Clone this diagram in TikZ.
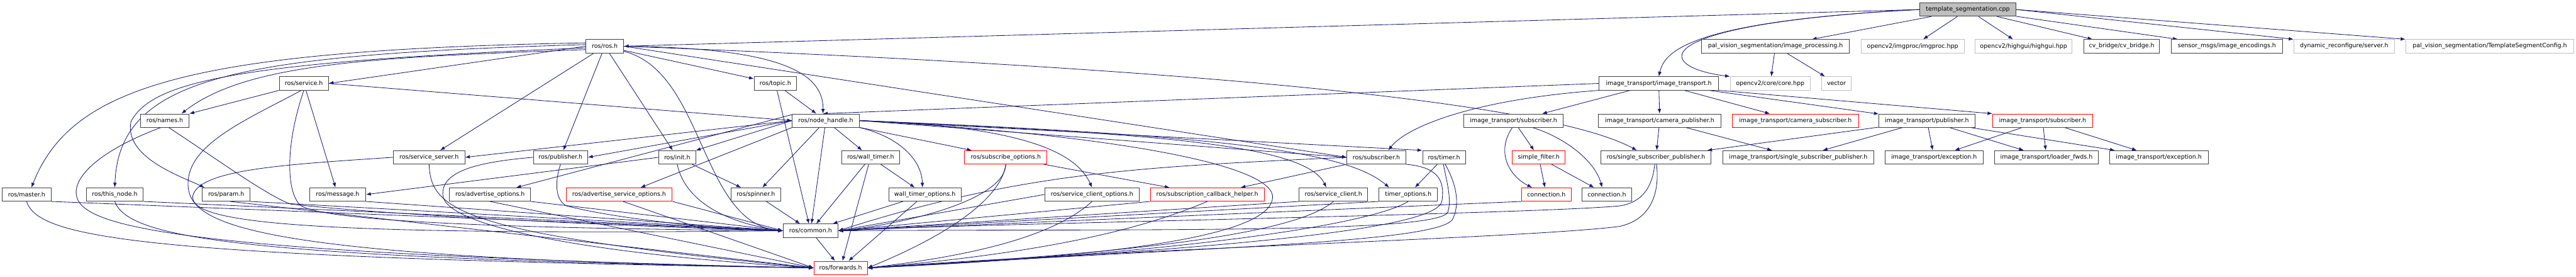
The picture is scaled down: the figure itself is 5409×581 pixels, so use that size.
\documentclass[tikz,border=0pt]{standalone}
\usepackage{fontspec}
\setmainfont{DejaVu Sans}
\usetikzlibrary{arrows.meta}
\definecolor{edgeblue}{HTML}{191970}
\pgfdeclarelayer{bg}
\pgfsetlayers{bg,main}

\begin{document}
\begin{tikzpicture}[
  x=1pt, y=-1pt,
  every node/.style={font=\fontsize{12.5}{15}\selectfont},
  incfile/.style={rectangle, draw=black!75, fill=white, line width=1.2pt, inner sep=0pt, minimum height=28pt},
  rootfile/.style={incfile, fill=black!25},
  truncfile/.style={incfile, draw=red},
  extfile/.style={incfile, draw=black!25},
  dep/.style={draw=edgeblue, line width=1.1pt, -{Latex[length=10pt,width=7.5pt]}}
]
  \useasboundingbox (0,0) rectangle (5409,581);

  % root file
  \node[rootfile, minimum width=202pt] (tmpl) at (4132,20) {template\_segmentation.cpp};

  % row 1
  \node[incfile, minimum width=79pt] (ros) at (1270,97) {ros/ros.h};
  \node[incfile, minimum width=311pt] (improc) at (3728,97) {pal\_vision\_segmentation/image\_processing.h};
  \node[extfile, minimum width=216pt] (imgproc) at (4016,97) {opencv2/imgproc/imgproc.hpp};
  \node[extfile, minimum width=204pt] (highgui) at (4249,97) {opencv2/highgui/highgui.hpp};
  \node[incfile, minimum width=159pt] (cvbridge) at (4455,97) {cv\_bridge/cv\_bridge.h};
  \node[incfile, minimum width=234pt] (encodings) at (4676,97) {sensor\_msgs/image\_encodings.h};
  \node[extfile, minimum width=211pt] (dynrec) at (4922,97) {dynamic\_reconfigure/server.h};
  \node[extfile, minimum width=353pt] (tsconfig) at (5228,97) {pal\_vision\_segmentation/TemplateSegmentConfig.h};

  % row 2
  \node[incfile, minimum width=103pt] (service) at (638,175) {ros/service.h};
  \node[incfile, minimum width=89pt] (topic) at (1628,175) {ros/topic.h};
  \node[incfile, minimum width=251pt] (itt) at (3483,175) {image\_transport/image\_transport.h};
  \node[extfile, minimum width=168pt] (core) at (3717,175) {opencv2/core/core.hpp};
  \node[extfile, minimum width=62pt] (vector) at (3856,175) {vector};

  % row 3
  \node[incfile, minimum width=102pt] (names) at (346,253) {ros/names.h};
  \node[incfile, minimum width=141pt] (nh) at (1734,253) {ros/node\_handle.h};
  \node[incfile, minimum width=209pt] (itsubA) at (3178,253) {image\_transport/subscriber.h};
  \node[incfile, minimum width=257pt] (campub) at (3485,253) {image\_transport/camera\_publisher.h};
  \node[truncfile, minimum width=265pt] (camsub) at (3770,253) {image\_transport/camera\_subscriber.h};
  \node[incfile, minimum width=201pt] (itpub) at (4046,253) {image\_transport/publisher.h};
  \node[truncfile, minimum width=210pt] (itsubB) at (4289,253) {image\_transport/subscriber.h};

  % row 4
  \node[incfile, minimum width=150pt] (srvserver) at (901,330) {ros/service\_server.h};
  \node[incfile, minimum width=114pt] (pub) at (1177,330) {ros/publisher.h};
  \node[incfile, minimum width=77pt] (init) at (1422,330) {ros/init.h};
  \node[incfile, minimum width=122pt] (walltimer) at (1828,330) {ros/wall\_timer.h};
  \node[truncfile, minimum width=173pt] (subopts) at (2112,330) {ros/subscribe\_options.h};
  \node[incfile, minimum width=123pt] (sub) at (2890,330) {ros/subscriber.h};
  \node[incfile, minimum width=90pt] (timer) at (3032,330) {ros/timer.h};
  \node[truncfile, minimum width=111pt] (sfilter) at (3231,330) {simple\_filter.h};
  \node[incfile, minimum width=232pt] (rosssp) at (3477,330) {ros/single\_subscriber\_publisher.h};
  \node[incfile, minimum width=318pt] (itssp) at (3776,330) {image\_transport/single\_subscriber\_publisher.h};
  \node[incfile, minimum width=206pt] (exc1) at (4061,330) {image\_transport/exception.h};
  \node[incfile, minimum width=219pt] (loader) at (4297,330) {image\_transport/loader\_fwds.h};
  \node[incfile, minimum width=207pt] (exc2) at (4533,330) {image\_transport/exception.h};

  % row 5
  \node[incfile, minimum width=103pt] (master) at (56,408) {ros/master.h};
  \node[incfile, minimum width=120pt] (thisnode) at (241,408) {ros/this\_node.h};
  \node[incfile, minimum width=100pt] (param) at (475,408) {ros/param.h};
  \node[incfile, minimum width=118pt] (message) at (709,408) {ros/message.h};
  \node[incfile, minimum width=170pt] (advopts) at (1029,408) {ros/advertise\_options.h};
  \node[truncfile, minimum width=223pt] (advsrvopts) at (1300,408) {ros/advertise\_service\_options.h};
  \node[incfile, minimum width=105pt] (spinner) at (1587,408) {ros/spinner.h};
  \node[incfile, minimum width=152pt] (wtopts) at (1942,408) {wall\_timer\_options.h};
  \node[incfile, minimum width=199pt] (scopts) at (2293,408) {ros/service\_client\_options.h};
  \node[truncfile, minimum width=239pt] (schelper) at (2535,408) {ros/subscription\_callback\_helper.h};
  \node[incfile, minimum width=144pt] (srvclient) at (2800,408) {ros/service\_client.h};
  \node[incfile, minimum width=123pt] (topts) at (2957,408) {timer\_options.h};
  \node[truncfile, minimum width=104pt] (connA) at (3247,408) {connection.h};
  \node[incfile, minimum width=105pt] (connB) at (3374,408) {connection.h};

  % rows 6 and 7
  \node[incfile, minimum width=115pt] (common) at (1702,484) {ros/common.h};
  \node[truncfile, minimum width=112pt] (fwd) at (1765,562) {ros/forwards.h};

  \begin{pgfonlayer}{bg}
    \fill[white] (0,0) rectangle (5409,581);

    % root includes
    \draw[dep] (tmpl.west) -- (ros.east);
    \draw[dep] (tmpl.west) .. controls (3540,45) and (3495,110) .. (itt.north);
    \draw[dep] (tmpl.west) .. controls (3450,50) and (3470,140) .. (core.north west);
    \draw[dep] (tmpl) -- (improc);
    \draw[dep] (tmpl) -- (imgproc);
    \draw[dep] (tmpl) -- (highgui);
    \draw[dep] (tmpl) -- (cvbridge);
    \draw[dep] (tmpl) -- (encodings);
    \draw[dep] (tmpl.east) -- (dynrec.north west);
    \draw[dep] (tmpl.east) -- (tsconfig.north west);
    \draw[dep] (improc) -- (core);
    \draw[dep] (improc) -- (vector);

    % ros/ros.h
    \draw[dep] (ros.west) -- (service.east);
    \draw[dep] (ros.170) .. controls (400,105) and (150,180) .. ([xshift=10pt]master.north);
    \draw[dep] (ros.175) .. controls (500,115) and (250,160) .. (thisnode.north);
    \draw[dep] (ros.185) .. controls (500,130) and (320,170) .. (275,255) .. controls (260,330) and (380,370) .. ([xshift=5pt]param.north west);
    \draw[dep] (ros.190) .. controls (800,120) and (520,130) .. ([xshift=35pt]names.north);
    \draw[dep] (ros) -- (srvserver);
    \draw[dep] (ros) -- (pub);
    \draw[dep] (ros) -- (init);
    \draw[dep] (ros) -- (topic);
    \draw[dep] (ros.east) .. controls (1600,100) and (1730,140) .. ([xshift=-6pt]nh.north);
    \draw[dep] (ros.-15) .. controls (1480,150) and (1470,470) .. (common.west);
    \draw[dep] (ros.east) -- (sub.west);
    \draw[dep] (ros.east) .. controls (2700,150) and (3280,230) .. ([xshift=-40pt]rosssp.north);

    % ros/service.h
    \draw[dep] (service.east) -- (nh.west);
    \draw[dep] (service.south west) -- (names.north east);
    \draw[dep] (service) -- (message);
    \draw[dep] (service.south) .. controls (600,300) and (600,400) .. (630,430) .. controls (680,470) and (1200,480) .. (common.west);
    \draw[dep] (service.-110) .. controls (520,250) and (400,300) .. (395,380) .. controls (390,470) and (500,540) .. (fwd.west);

    % ros/node_handle.h
    \draw[dep] (nh.west) -- (srvserver.east);
    \draw[dep] (nh.west) -- (pub.east);
    \draw[dep] (nh.170) -- ([xshift=55pt]advopts.north);
    \draw[dep] (nh.south west) -- ([xshift=45pt]advsrvopts.north);
    \draw[dep] (nh.west) -- (init.north east);
    \draw[dep] (nh) -- (spinner);
    \draw[dep] (nh) -- (common);
    \draw[dep] (nh) -- (walltimer);
    \draw[dep] (nh.south east) .. controls (1880,285) and (1935,330) .. ([xshift=-5pt]wtopts.north);
    \draw[dep] (nh) -- (subopts);
    \draw[dep] (nh.east) .. controls (2150,265) and (2260,320) .. (scopts.north);
    \draw[dep] (nh.east) .. controls (2400,280) and (2740,300) .. ([xshift=-15pt]srvclient.north);
    \draw[dep] (nh.east) -- (sub.west);
    \draw[dep] (nh.east) -- (timer.north west);
    \draw[dep] (nh.east) .. controls (2600,285) and (2830,320) .. ([xshift=-40pt]topts.north);
    \draw[dep] (nh.east) .. controls (2300,280) and (2660,340) .. (2672,410) .. controls (2680,500) and (2300,540) .. (fwd.east);
    \draw[dep] (topic) -- (nh);
    \draw[dep] (topic) -- (common);

    % left group
    \draw[dep] (master.south east) -- (common.west);
    \draw[dep] (master.south) .. controls (80,500) and (300,540) .. (fwd.west);
    \draw[dep] (thisnode.south east) -- (common.west);
    \draw[dep] (thisnode.south) .. controls (270,500) and (500,540) .. (fwd.west);
    \draw[dep] (names.-60) .. controls (450,330) and (560,410) .. (610,428) .. controls (800,450) and (1300,475) .. (common.west);
    \draw[dep] (names.-120) .. controls (250,300) and (165,350) .. (160,400) .. controls (155,470) and (300,530) .. (fwd.west);
    \draw[dep] (param.south east) -- (common.west);
    \draw[dep] (param.-60) -- (fwd.west);
    \draw[dep] (message.south east) -- (common.west);
    \draw[dep] (srvserver.west) .. controls (600,345) and (420,355) .. (405,410) .. controls (395,465) and (600,495) .. (common.west);
    \draw[dep] (srvserver.south) .. controls (905,440) and (960,490) .. (fwd.west);
    \draw[dep] (pub.south) .. controls (1165,380) and (1165,420) .. (1190,432) .. controls (1300,460) and (1500,480) .. (common.west);
    \draw[dep] (pub.west) .. controls (1000,340) and (925,360) .. (930,410) .. controls (935,470) and (1200,530) .. (fwd.west);
    \draw[dep] (advopts.south east) -- (common.west);
    \draw[dep] (advopts.south) -- (fwd.west);
    \draw[dep] (advsrvopts.south east) -- (common.west);
    \draw[dep] (advsrvopts.-60) -- (fwd.west);
    \draw[dep] (init) -- (spinner);
    \draw[dep] (init.south) .. controls (1440,430) and (1540,470) .. (common.west);
    \draw[dep] (init.west) -- (message.east);
    \draw[dep] (spinner) -- (common);
    \draw[dep] (common) -- (fwd);

    % timers and options
    \draw[dep] (walltimer) -- (wtopts);
    \draw[dep] (walltimer) -- (common);
    \draw[dep] (walltimer) -- (fwd);
    \draw[dep] (wtopts) -- (common);
    \draw[dep] (wtopts) -- (fwd);
    \draw[dep] (subopts) -- (schelper);
    \draw[dep] (subopts.south) .. controls (2110,420) and (1900,470) .. (common.east);
    \draw[dep] (subopts.south) .. controls (2100,430) and (1950,510) .. (fwd.east);
    \draw[dep] (scopts.west) -- (common.east);
    \draw[dep] (scopts.south) .. controls (2230,480) and (2100,530) .. (fwd.east);
    \draw[dep] (schelper.south west) -- (common.east);
    \draw[dep] (schelper.south) .. controls (2400,480) and (2200,530) .. (fwd.east);
    \draw[dep] (srvclient.south west) -- (common.east);
    \draw[dep] (srvclient.south) .. controls (2720,490) and (2400,530) .. (fwd.east);
    \draw[dep] (sub.south west) -- ([xshift=70pt]schelper.north);
    \draw[dep] (sub.west) .. controls (2400,350) and (2150,360) .. (common.east);
    \draw[dep] (sub.south east) .. controls (3010,350) and (3035,370) .. (3028,420) .. controls (3025,480) and (2600,520) .. (fwd.east);
    \draw[dep] (timer) -- (topts);
    \draw[dep] (timer.-95) .. controls (3040,390) and (3048,420) .. (3040,445) .. controls (3020,490) and (2400,480) .. (common.east);
    \draw[dep] (timer.-80) .. controls (3060,390) and (3065,430) .. (3050,460) .. controls (3020,510) and (2500,520) .. (fwd.east);
    \draw[dep] (topts.south west) -- (common.east);
    \draw[dep] (topts.south) .. controls (2880,470) and (2500,530) .. (fwd.east);
    \draw[dep] (connA.south west) -- (common.east);
    \draw[dep] (rosssp.-100) .. controls (3470,390) and (3450,425) .. (3400,432) .. controls (3200,450) and (2000,470) .. (common.east);
    \draw[dep] (rosssp.-85) .. controls (3485,400) and (3470,460) .. (3400,475) .. controls (3200,500) and (2400,520) .. (fwd.east);

    % image_transport
    \draw[dep] (itt.west) -- ([xshift=-6pt]nh.north);
    \draw[dep] (itt.south west) .. controls (3080,210) and (2950,270) .. ([xshift=25pt]sub.north);
    \draw[dep] ([xshift=-60pt]itt.south) -- ([xshift=60pt]itsubA.north);
    \draw[dep] (itt) -- (campub);
    \draw[dep] (itt) -- (camsub);
    \draw[dep] (itt) -- (itpub);
    \draw[dep] (itt.south east) -- (itsubB.north west);
    \draw[dep] (itsubA) -- (sfilter);
    \draw[dep] (itsubA.-100) .. controls (3140,320) and (3170,370) .. ([xshift=-30pt]connA.north);
    \draw[dep] ([xshift=40pt]itsubA.south) .. controls (3290,290) and (3350,340) .. ([xshift=-10pt]connB.north);
    \draw[dep] (sfilter) -- (connA);
    \draw[dep] (sfilter) -- (connB);
    \draw[dep] (campub) -- (rosssp);
    \draw[dep] (campub) -- (itssp);
    \draw[dep] (itpub) -- (rosssp);
    \draw[dep] (itpub) -- (itssp);
    \draw[dep] (itpub) -- (exc1);
    \draw[dep] (itpub) -- (loader);
    \draw[dep] (itpub) -- (exc2);
    \draw[dep] (itsubB) -- (exc1);
    \draw[dep] (itsubB) -- (loader);
    \draw[dep] (itsubB) -- (exc2);
  \end{pgfonlayer}
\end{tikzpicture}
\end{document}
